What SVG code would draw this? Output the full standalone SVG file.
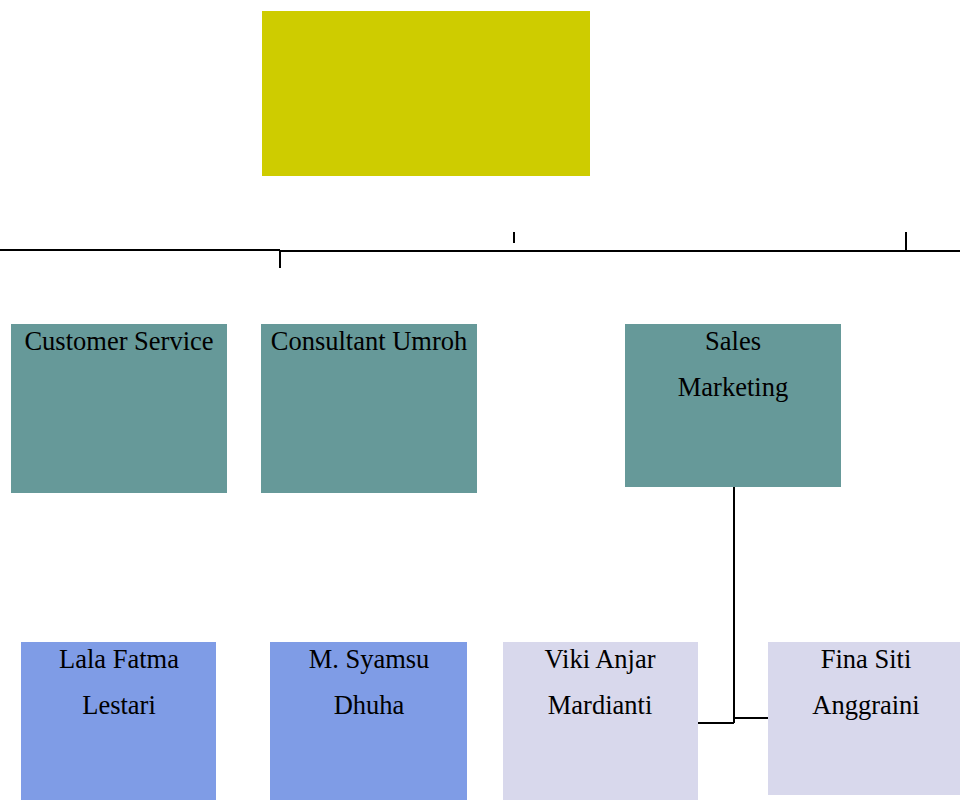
<svg xmlns="http://www.w3.org/2000/svg" width="960" height="800" viewBox="0 0 960 800">
<style>
.t{font-family:"Liberation Serif","Times New Roman",serif;font-size:26.5px;fill:#000;text-anchor:middle}
.l{stroke:#000;stroke-width:2;fill:none}
.dept{fill:#669999}
.staff{fill:#7f9ce6}
.sales{fill:#d8d8ec}
</style>
<rect width="960" height="800" fill="#fff"/>
<g id="top"><rect x="262" y="11" width="328" height="165" fill="#cecc00"/></g>
<g id="connectors">
<path class="l" d="M0 250 H280 M280 251 H906 M906 251 H960"/>
<path class="l" d="M280 250 V268"/>
<path class="l" d="M514 232 V243"/>
<path class="l" d="M906 232 V251"/>
<path class="l" d="M734 487 V723 M698 723 H734 M734 718 H768"/>
</g>
<g id="customer-service"><rect class="dept" x="11" y="324" width="216" height="169"/><text class="t" x="119" y="350">Customer Service</text></g>
<g id="consultant-umroh"><rect class="dept" x="261" y="324" width="216" height="169"/><text class="t" x="369" y="350">Consultant Umroh</text></g>
<g id="sales-marketing"><rect class="dept" x="625" y="324" width="216" height="163"/><text class="t" x="733" y="350">Sales</text><text class="t" x="733" y="396">Marketing</text></g>
<g id="lala"><rect class="staff" x="21" y="642" width="195" height="158"/><text class="t" x="119" y="668">Lala Fatma</text><text class="t" x="119" y="714">Lestari</text></g>
<g id="syamsu"><rect class="staff" x="270" y="642" width="197" height="158"/><text class="t" x="369" y="668">M. Syamsu</text><text class="t" x="369" y="714">Dhuha</text></g>
<g id="viki"><rect class="sales" x="503" y="642" width="195" height="158"/><text class="t" x="600" y="668">Viki Anjar</text><text class="t" x="600" y="714">Mardianti</text></g>
<g id="fina"><rect class="sales" x="768" y="642" width="192" height="153"/><text class="t" x="866" y="668">Fina Siti</text><text class="t" x="866" y="714">Anggraini</text></g>
</svg>
